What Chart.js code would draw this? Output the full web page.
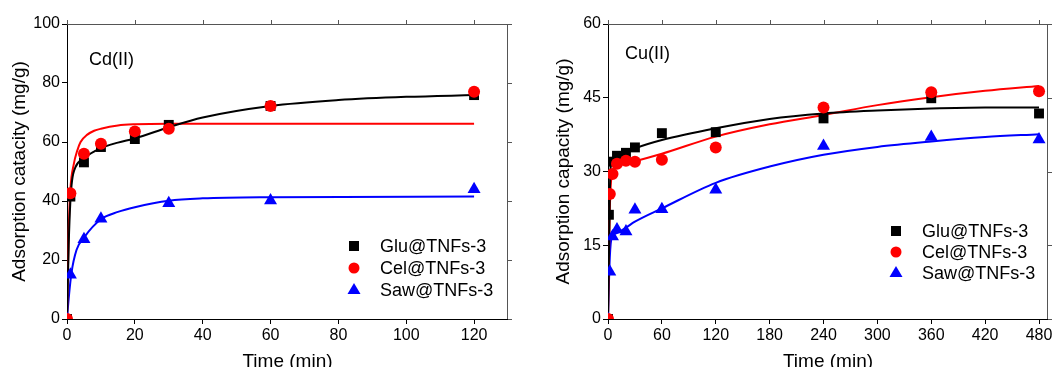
<!DOCTYPE html>
<html>
<head>
<meta charset="utf-8">
<script src="https://cdn.jsdelivr.net/npm/chart.js@4.4.1/dist/chart.umd.min.js"></script>
<style>
  html, body { margin: 0; padding: 0; background: #fff; overflow: hidden; }
  .wrap { display: flex; width: 1057px; height: 367px; overflow: hidden; }
  canvas { display: block; flex: none; }
</style>
</head>
<body>
<div class="wrap">
  <canvas id="cdChart" width="528" height="380"></canvas>
  <canvas id="cuChart" width="529" height="380"></canvas>
</div>
<script>
// ---- Data ----
const seriesNames = ['Glu@TNFs-3', 'Cel@TNFs-3', 'Saw@TNFs-3'];

// Cd(II) measured points
const cdTime = [0, 1, 5, 10, 20, 30, 60, 120];
const cdGlu = [0, 41.5, 53.1, 58.3, 61.0, 65.8, 72.2, 75.9];
const cdCel = [0, 42.6, 56.0, 59.4, 63.6, 64.5, 72.2, 77.0];
const cdSaw = [0, 15.0, 27.0, 34.0, null, 39.2, 40.2, 44.0];

// Cd(II) fitted curves
const cdGluFitT = [0, 0.5, 1, 1.5, 2.5, 5, 10, 15, 20, 30, 40, 60, 80, 100, 120];
const cdGluFitV = [0, 25, 40, 47, 51.5, 54.5, 57.9, 59.8, 61.2, 65.0, 68.3, 72.2, 74.2, 75.3, 75.9];
const cdCelFitT = [0, 0.5, 1, 2, 3, 4, 6, 8, 10, 15, 20, 30, 120];
const cdCelFitV = [0, 30, 44, 52.5, 57, 60, 62.5, 63.8, 64.5, 65.6, 66.0, 66.2, 66.2];
const cdSawFitT = [0, 0.5, 1.3, 2.8, 5, 10, 15, 20, 30, 40, 60, 120];
const cdSawFitV = [0, 7, 15.5, 23.4, 27.6, 33.8, 36.3, 37.9, 40.1, 40.9, 41.3, 41.5];

// Cu(II) measured points
const cuGluT = [0, 1, 3, 10, 20, 30, 60, 120, 240, 360, 480];
const cuGlu = [0, 21.2, 32.0, 33.2, 33.8, 34.9, 37.8, 38.0, 40.8, 44.9, 41.8];
const cuCelT = [0, 2, 5, 10, 20, 30, 60, 120, 240, 360, 480];
const cuCel = [0, 25.4, 29.5, 31.6, 32.2, 32.0, 32.4, 34.9, 43.0, 46.1, 46.3];
const cuSawT = [0, 2, 5, 10, 20, 30, 60, 120, 240, 360, 480];
const cuSaw = [0, 9.6, 16.8, 18.2, 17.8, 22.2, 22.3, 26.3, 35.2, 37.0, 36.5];

// Cu(II) fitted curves
const cuGluFitT = [0, 1, 2, 3, 5, 10, 20, 30, 60, 120, 180, 240, 300, 360, 420, 480];
const cuGluFitV = [0, 12, 25, 31, 32.3, 33.0, 33.9, 34.7, 36.4, 38.8, 40.7, 41.8, 42.4, 42.8, 43.0, 43.0];
const cuCelFitT = [0, 1, 2, 3, 5, 10, 20, 30, 60, 120, 180, 240, 300, 360, 420, 480];
const cuCelFitV = [0, 12, 22, 27, 29.8, 31.0, 31.7, 32.1, 33.6, 37.1, 39.6, 41.5, 43.5, 45.1, 46.4, 47.4];
const cuSawFitT = [0, 1, 2, 4, 10, 20, 30, 60, 120, 180, 240, 300, 360, 420, 480];
const cuSawFitV = [0, 7, 12.5, 16.5, 17.5, 18.6, 19.8, 22.5, 27.7, 31.0, 33.4, 35.0, 36.1, 37.0, 37.6];

// Tick labels
const cdXTicks = [0, 20, 40, 60, 80, 100, 120];
const cdYTicks = [0, 20, 40, 60, 80, 100];
const cuXTicks = [0, 60, 120, 180, 240, 300, 360, 420, 480];
const cuYTicks = [0, 15, 30, 45, 60];

// ---- helpers ----
const FONT = '"Liberation Sans", Arial, sans-serif';
Chart.defaults.font.family = FONT;
Chart.defaults.color = '#000';

const pts = (xs, ys) => xs.map((x, i) => ({ x: x, y: ys[i] })).filter(p => p.y !== null);

const styles = {
  'Glu@TNFs-3': { color: '#000000', pointStyle: 'rect', radius: 7 },
  'Cel@TNFs-3': { color: '#ff0000', pointStyle: 'circle', radius: 6 },
  'Saw@TNFs-3': { color: '#0000ff', pointStyle: 'triangle', radius: 7.5 }
};

function markerSet(name, data) {
  const s = styles[name];
  return {
    label: name, data: data, showLine: false,
    pointStyle: s.pointStyle, pointRadius: s.radius, pointHoverRadius: s.radius,
    backgroundColor: s.color, borderColor: s.color, pointBorderWidth: 0,
    clip: 0
  };
}

function fitSet(name, data) {
  return {
    label: name + ' fit', data: data, showLine: true, pointRadius: 0,
    borderColor: styles[name].color, borderWidth: 2,
    cubicInterpolationMode: 'monotone', fill: false
  };
}

// draws the legend box, panel label and top/right frame
const panelDeco = {
  id: 'panelDeco',
  afterDraw(chart, args, opts) {
    const ctx = chart.ctx;
    const a = chart.chartArea;
    const xs = chart.scales.x, ys = chart.scales.y;
    ctx.save();
    ctx.strokeStyle = '#555';
    ctx.lineWidth = 1;
    ctx.beginPath();
    ctx.moveTo(a.left, a.top + 0.5); ctx.lineTo(a.right, a.top + 0.5);
    ctx.moveTo(a.right - 0.5, a.top); ctx.lineTo(a.right - 0.5, a.bottom);
    xs.ticks.forEach(t => {
      const px = Math.round(xs.getPixelForValue(t.value)) + 0.5;
      ctx.moveTo(px, a.top); ctx.lineTo(px, a.top - 4);
    });
    ys.ticks.forEach(t => {
      const py = Math.round(ys.getPixelForValue(t.value)) + 0.5;
      ctx.moveTo(a.right, py); ctx.lineTo(a.right + 4, py);
    });
    ctx.stroke();

    ctx.fillStyle = '#000';
    ctx.font = '18px ' + FONT;
    ctx.textBaseline = 'middle';
    ctx.fillText(opts.label, opts.labelX, opts.labelY);

    seriesNames.forEach((name, i) => {
      const s = styles[name];
      const x = opts.legendX, y = opts.legendY[i];
      ctx.fillStyle = s.color;
      ctx.beginPath();
      if (s.pointStyle === 'rect') {
        ctx.rect(x - 5, y - 5, 10, 10);
      } else if (s.pointStyle === 'circle') {
        ctx.arc(x, y, 5.5, 0, Math.PI * 2);
      } else {
        ctx.moveTo(x, y - 7);
        ctx.lineTo(x + 6.5, y + 4);
        ctx.lineTo(x - 6.5, y + 4);
        ctx.closePath();
      }
      ctx.fill();
      ctx.fillStyle = '#000';
      ctx.fillText(name, opts.legendTextX, y + 1);
    });
    ctx.restore();
  }
};

function makeChart(id, datasets, ax) {
  const tickFont = { size: 16 };
  const titleFont = { size: 19 };
  new Chart(document.getElementById(id), {
    type: 'scatter',
    data: { datasets: datasets },
    options: {
      responsive: false,
      animation: false,
      layout: { padding: { top: 24, right: ax.padRight, left: 0, bottom: 0 } },
      plugins: {
        legend: { display: false },
        tooltip: { enabled: false },
        panelDeco: ax.deco
      },
      scales: {
        x: {
          type: 'linear', min: 0, max: ax.xMax,
          afterBuildTicks: s => { s.ticks = ax.xTicks.map(v => ({ value: v })); },
          afterFit: s => { s.height = 61; },
          ticks: { font: tickFont, padding: 2, maxRotation: 0 },
          grid: { drawOnChartArea: false, tickLength: 5, color: '#000' },
          border: { color: '#000', width: 1 },
          title: { display: true, text: 'Time (min)', font: titleFont, padding: { top: 0, bottom: 7 } }
        },
        y: {
          type: 'linear', min: 0, max: ax.yMax,
          afterBuildTicks: s => { s.ticks = ax.yTicks.map(v => ({ value: v })); },
          afterFit: s => { s.width = ax.yWidth; },
          ticks: { font: tickFont, padding: 2 },
          grid: { drawOnChartArea: false, tickLength: 5, color: '#000' },
          border: { color: '#000', width: 1 },
          title: { display: true, text: ax.yTitle, font: titleFont, padding: { top: ax.yTitlePad, bottom: 0 } }
        }
      }
    },
    plugins: [panelDeco]
  });
}

// Cd(II) panel
makeChart('cdChart', [
  markerSet('Cel@TNFs-3', pts(cdTime, cdCel)),
  markerSet('Saw@TNFs-3', pts(cdTime, cdSaw)),
  markerSet('Glu@TNFs-3', pts(cdTime, cdGlu)),
  fitSet('Glu@TNFs-3', pts(cdGluFitT, cdGluFitV)),
  fitSet('Cel@TNFs-3', pts(cdCelFitT, cdCelFitV)),
  fitSet('Saw@TNFs-3', pts(cdSawFitT, cdSawFitV))
], {
  xMax: 130, yMax: 100, xTicks: cdXTicks, yTicks: cdYTicks,
  yWidth: 67, padRight: 20, yTitle: 'Adsorption catacity (mg/g)', yTitlePad: 8.6,
  deco: { label: 'Cd(II)', labelX: 89, labelY: 60, legendX: 354, legendTextX: 380, legendY: [246, 268, 290] }
});

// Cu(II) panel
makeChart('cuChart', [
  markerSet('Cel@TNFs-3', pts(cuCelT, cuCel)),
  markerSet('Saw@TNFs-3', pts(cuSawT, cuSaw)),
  markerSet('Glu@TNFs-3', pts(cuGluT, cuGlu)),
  fitSet('Glu@TNFs-3', pts(cuGluFitT, cuGluFitV)),
  fitSet('Cel@TNFs-3', pts(cuCelFitT, cuCelFitV)),
  fitSet('Saw@TNFs-3', pts(cuSawFitT, cuSawFitV))
], {
  xMax: 490, yMax: 60, xTicks: cuXTicks, yTicks: cuYTicks,
  yWidth: 80, padRight: 9, yTitle: 'Adsorption capacity (mg/g)', yTitlePad: 24,
  deco: { label: 'Cu(II)', labelX: 97, labelY: 54, legendX: 368, legendTextX: 394, legendY: [231, 252, 273] }
});
</script>
</body>
</html>
